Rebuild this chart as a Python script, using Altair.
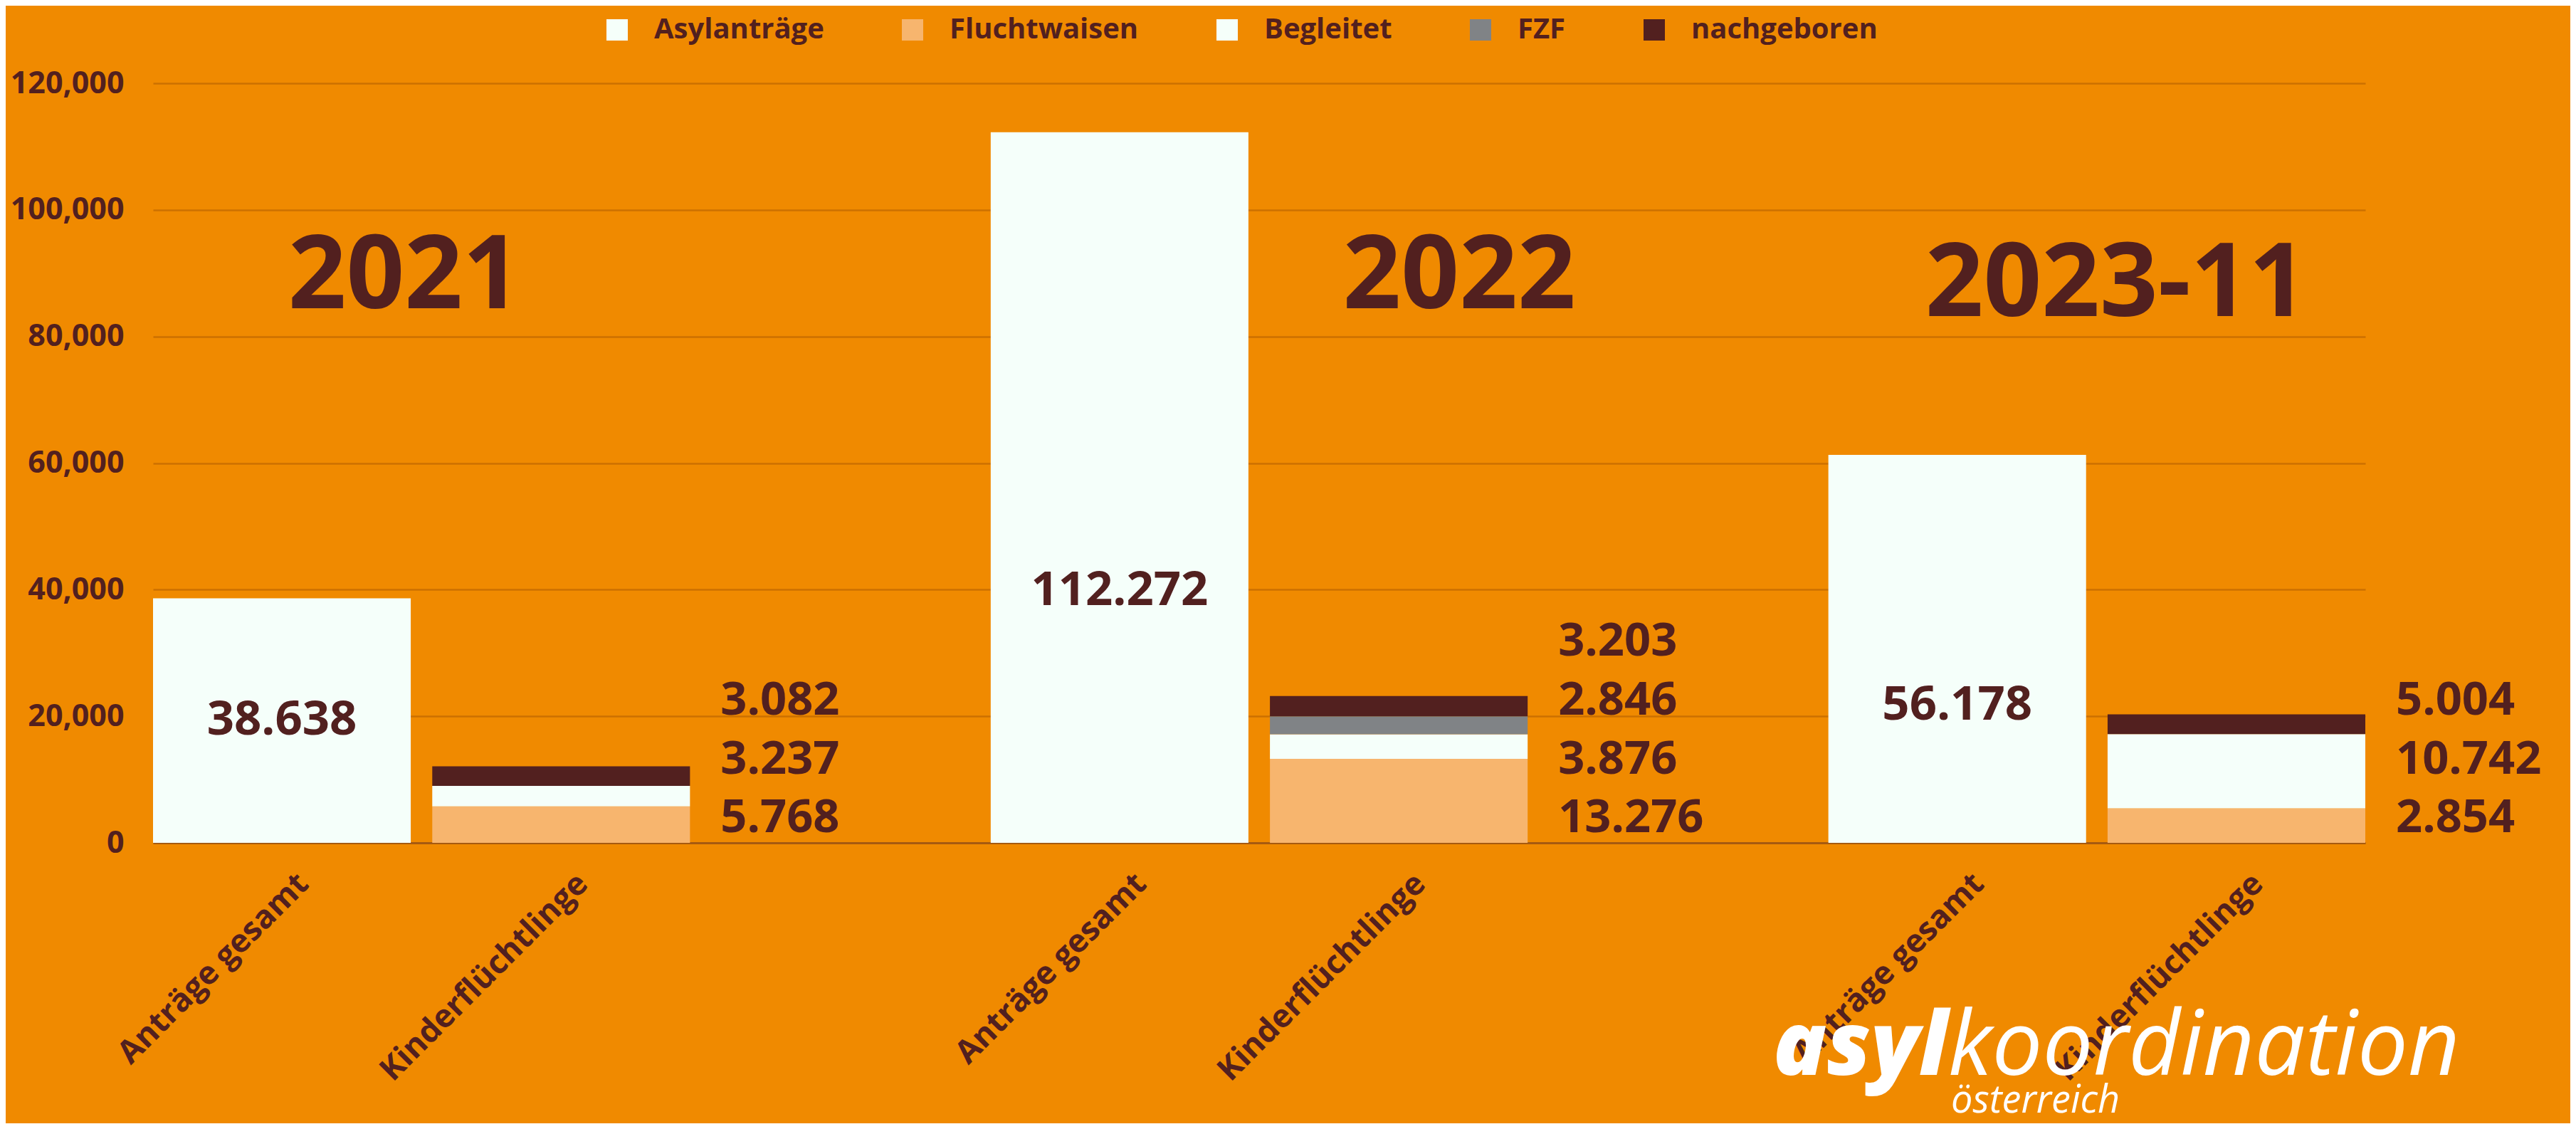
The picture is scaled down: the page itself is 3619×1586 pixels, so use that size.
import altair as alt
import pandas as pd

BG = "#F08A00"
TEXT = "#52201F"
FONT = "Open Sans"

# ---- data ----
groups = ["2021", "2022", "2023-11"]
x_labels = ["Anträge gesamt", "Kinderflüchtlinge"]

antraege = [38638, 112272, 61285]
antraege_labels = ["38.638", "112.272", "56.178"]

series = ["Asylanträge", "Fluchtwaisen", "Begleitet", "FZF", "nachgeboren"]
series_colors = ["#F5FFFA", "#F7B56E", "#F5FFFA", "#808386", "#52201F"]

fluchtwaisen = [5768, 13276, 5459]
begleitet = [3237, 3876, 11719]
fzf = [0, 2846, 0]
nachgeboren = [3082, 3203, 3113]

# side labels, listed bottom -> top as printed
side_labels = [
    ["5.768", "3.237", "3.082"],
    ["13.276", "3.876", "2.846", "3.203"],
    ["2.854", "10.742", "5.004"],
]

y_ticks = [0, 20000, 40000, 60000, 80000, 100000, 120000]

# ---- tables ----
x_domain = []
for i, g in enumerate(groups):
    x_domain += [f"{g}|A", f"{g}|K"]
    if i < len(groups) - 1:
        x_domain.append(f"{g}|gap")

bar_rows = []
for i, g in enumerate(groups):
    bar_rows.append({"cat": f"{g}|A", "series": "Asylanträge", "value": antraege[i], "ord": 0})
    for j, (s, vals) in enumerate(
        [("Fluchtwaisen", fluchtwaisen), ("Begleitet", begleitet), ("FZF", fzf), ("nachgeboren", nachgeboren)]
    ):
        if vals[i] > 0:
            bar_rows.append({"cat": f"{g}|K", "series": s, "value": vals[i], "ord": j})
bars_df = pd.DataFrame(bar_rows)

side_rows = []
for i, g in enumerate(groups):
    for k, t in enumerate(side_labels[i]):
        side_rows.append({"cat": f"{g}|K", "label": t, "idx": k})
side_df = pd.DataFrame(side_rows)

inner_df = pd.DataFrame(
    {"cat": [f"{g}|A" for g in groups], "label": antraege_labels, "value": antraege}
)

label_expr = (
    f"indexof(datum.value, '|A') > 0 ? '{x_labels[0]}' : "
    f"(indexof(datum.value, '|K') > 0 ? '{x_labels[1]}' : '')"
)

x_enc = alt.X(
    "cat:N",
    scale=alt.Scale(domain=x_domain, paddingInner=0.077, paddingOuter=0),
    axis=alt.Axis(
        title=None,
        labelExpr=label_expr,
        labelAngle=-45,
        labelAlign="right",
        labelBaseline="middle",
        labelFont=FONT,
        labelFontSize=45,
        labelFontWeight="bold",
        labelColor=TEXT,
        labelPadding=50,
        labelOffset=30,
        labelLimit=1000,
        ticks=False,
        domainColor="#A65A10",
        domainWidth=3,
        grid=False,
    ),
)

y_scale = alt.Scale(domain=[0, 120000], nice=False)

bars = (
    alt.Chart(bars_df)
    .mark_bar()
    .encode(
        x=x_enc,
        y=alt.Y(
            "sum(value):Q",
            stack="zero",
            scale=y_scale,
            axis=alt.Axis(
                title=None,
                values=y_ticks,
                format=",d",
                labelFont=FONT,
                labelFontSize=43,
                labelFontWeight="bold",
                labelColor=TEXT,
                labelPadding=41,
                ticks=False,
                domain=False,
                grid=True,
                gridColor="#CC7000",
                gridWidth=2.5,
            ),
        ),
        color=alt.Color(
            "series:N",
            scale=alt.Scale(domain=series, range=series_colors),
            legend=alt.Legend(
                title=None,
                orient="none",
                legendX=632,
                legendY=-95,
                direction="horizontal",
                symbolType="square",
                symbolSize=900,
                symbolStrokeWidth=0,
                labelFont=FONT,
                labelFontSize=40,
                labelFontWeight="bold",
                labelColor=TEXT,
                labelOffset=32,
                columnPadding=104,
                labelLimit=600,
                padding=0,
            ),
        ),
        order=alt.Order("ord:Q"),
    )
)

side_text = (
    alt.Chart(side_df)
    .transform_calculate(ly="3900 + datum.idx * 9300")
    .mark_text(
        align="left", baseline="middle", dx=224, font=FONT, fontSize=65, fontWeight="bold", color=TEXT
    )
    .encode(x=alt.X("cat:N"), y=alt.Y("ly:Q"), text="label:N")
)

inner_text = (
    alt.Chart(inner_df)
    .transform_calculate(ly="datum.value < 50000 ? datum.value / 2 : datum.value * 0.355")
    .mark_text(align="center", baseline="middle", font=FONT, fontSize=67, fontWeight="bold", color=TEXT)
    .encode(x=alt.X("cat:N"), y=alt.Y("ly:Q"), text="label:N")
)

title_offsets = [-220, 85, -169]
title_levels = [84500, 84500, 83200]
titles = []
for g, dx, lv in zip(groups, title_offsets, title_levels):
    tdf = pd.DataFrame({"cat": [f"{g}|K"], "label": [g], "lv": [lv]})
    titles.append(
        alt.Chart(tdf)
        .mark_text(
            align="center", baseline="alphabetic", dx=dx, font=FONT, fontSize=143, fontWeight="bold", color=TEXT
        )
        .encode(x=alt.X("cat:N"), y=alt.Y("lv:Q"), text="label:N")
    )

one = pd.DataFrame({"k": [0]})
logo_a = alt.Chart(one).mark_text(
    text="asyl", align="left", baseline="alphabetic", font=FONT, fontSize=124,
    fontStyle="italic", fontWeight=800, color="white"
).encode(x=alt.value(2276), y=alt.value(1393))
logo_b = alt.Chart(one).mark_text(
    text="koordination", align="left", baseline="alphabetic", font=FONT, fontSize=126,
    fontStyle="italic", fontWeight="normal", color="white"
).encode(x=alt.value(2522), y=alt.value(1393))
logo_c = alt.Chart(one).mark_text(
    text="österreich", align="left", baseline="alphabetic", font=FONT, fontSize=54,
    fontStyle="italic", fontWeight="normal", color="white"
).encode(x=alt.value(2526), y=alt.value(1446))

chart = (
    alt.layer(bars, side_text, inner_text, *titles, logo_a, logo_b, logo_c)
    .properties(
        width=3108,
        height=1067,
        autosize=alt.AutoSizeParams(type="none"),
        padding={"left": 207, "top": 109, "right": 288, "bottom": 394},
        background=BG,
    )
    .configure_view(stroke=None)
)

chart.save("out.html", embed_options={"renderer": "svg", "actions": False})
